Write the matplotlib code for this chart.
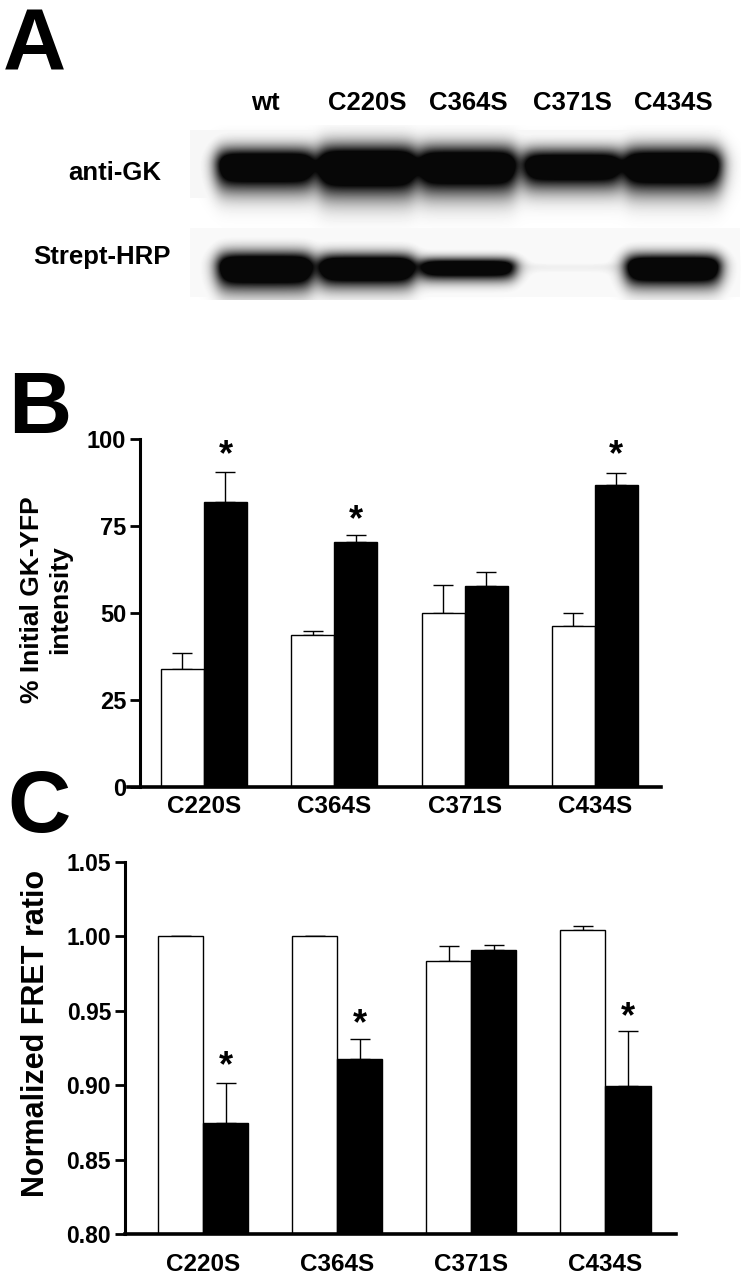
import numpy as np
import matplotlib
matplotlib.use("Agg")
from matplotlib import pyplot as plt

# ---- data ----
lanes = ["wt", "C220S", "C364S", "C371S", "C434S"]
gk_amp = [0.95, 1.0, 0.95, 0.9, 0.95]
gk_thick = [17, 20, 19, 16, 18]
hrp_amp = [1.0, 1.0, 0.9, 0.04, 1.0]
hrp_thick = [15, 13, 9, 4, 13]

mutants = ["C220S", "C364S", "C371S", "C434S"]
b_ctrl = [33.8, 43.8, 50.0, 46.4]
b_ctrl_err = [4.8, 1.0, 8.1, 3.6]
b_trt = [82.0, 70.5, 57.9, 86.7]
b_trt_err = [8.4, 2.0, 4.0, 3.5]
b_star = [97.4, 78.7, None, 97.4]

c_ctrl = [1.000, 1.000, 0.9835, 1.0045]
c_ctrl_err = [0.0, 0.0, 0.0103, 0.0023]
c_trt = [0.8746, 0.9176, 0.9906, 0.8997]
c_trt_err = [0.0267, 0.0134, 0.0038, 0.0370]
c_star = [0.918, 0.946, None, 0.951]

W, H = 742, 1280
plt.rcParams["font.family"] = ["Liberation Sans", "DejaVu Sans"]
plt.rcParams["font.weight"] = "bold"

fig = plt.figure(figsize=(W / 100, H / 100), dpi=100)


def rect(x0, y0, x1, y1):
    return [x0 / W, 1 - y1 / H, (x1 - x0) / W, (y1 - y0) / H]


def ftext(x, y, s, **kw):
    fig.text(x / W, 1 - y / H, s, fontweight="bold", **kw)


# ---- panel letters ----
for letter, x, y in [("A", 3, 70), ("B", 8, 433), ("C", 7, 832)]:
    ftext(x, y, letter, fontsize=63, va="baseline", ha="left")

# ---- panel A: blot ----
lane_x = [265, 367, 468, 572, 673]
for name, x in zip(lanes, lane_x):
    ftext(x, 103, name, fontsize=18.5, ha="center", va="center")
ftext(161, 173, "anti-GK", fontsize=18.5, ha="right", va="center")
ftext(171, 257, "Strept-HRP", fontsize=18.5, ha="right", va="center")

xs = np.arange(190, 741) + 0.5
ys = np.arange(125, 300) + 0.5
X, Y = np.meshgrid(xs, ys)
img = np.ones_like(X)
img[(X > 190) & (X < 721) & (Y > 130) & (Y < 198)] = 0.965
img[(X > 190) & (X < 740) & (Y > 228) & (Y < 297)] = 0.975


def band(cx, cy, hw, hh, amp):
    fx = 1 / (1 + np.exp((np.abs(X - cx) - hw) / 4.5))
    d = Y - cy
    scale = np.where(d > 0, hh * 1.5, hh)
    fy = np.exp(-np.abs(d / scale) ** 2.0)
    return amp * fx * fy


dark = np.zeros_like(X)
for x, a, t in zip(lane_x, gk_amp, gk_thick):
    dark += band(x, 165, 48, t, a)
for x, a, t in zip(lane_x, hrp_amp, hrp_thick):
    dark += band(x, 267, 47, t, a)
img = np.minimum(img, 1 - np.clip(dark * 1.6, 0, 1) * 0.97)

axa = fig.add_axes(rect(190, 125, 741, 300))
axa.imshow(img, cmap="gray", vmin=0, vmax=1, extent=(190, 741, 300, 125),
           aspect="auto", interpolation="bilinear")
axa.axis("off")


# ---- bar panels ----
def bar_panel(ax, ctrl, ctrl_err, trt, trt_err, stars, ylim, yticks,
              ytick_fmt, width, star_off, xpad, xspine_frac, ysize):
    # spine position first: it resets the ticks
    for s in ["top", "right"]:
        ax.spines[s].set_visible(False)
    ax.spines["left"].set_position(("axes", xspine_frac))
    ax.spines["left"].set_linewidth(2.2)
    ax.spines["bottom"].set_linewidth(2.6)

    pos = np.arange(len(mutants))
    ax.bar(pos - width / 2, ctrl, width, color="white",
           edgecolor="black", linewidth=1.0, zorder=2)
    ax.bar(pos + width / 2, trt, width, color="black", edgecolor="black",
           linewidth=1.0, zorder=2)
    ax.errorbar(pos - width / 2, ctrl, yerr=[np.zeros(4), ctrl_err],
                fmt="none", ecolor="black", elinewidth=1.0, capsize=7,
                capthick=1.0, zorder=1)
    ax.errorbar(pos + width / 2, trt, yerr=[np.zeros(4), trt_err],
                fmt="none", ecolor="black", elinewidth=1.0, capsize=7,
                capthick=1.0, zorder=1)
    for p, s in zip(pos, stars):
        if s is not None:
            ax.text(p + width / 2, s - star_off, "*", ha="center",
                    va="center", fontsize=26, fontweight="bold")
    ax.set_ylim(*ylim)
    ax.set_yticks(yticks)
    ax.set_yticklabels([ytick_fmt.format(v) for v in yticks])
    ax.set_xticks(pos)
    ax.set_xticklabels(mutants)
    ax.tick_params(axis="x", length=0, pad=xpad, labelsize=17.5)
    ax.tick_params(axis="y", length=7, width=2.0, pad=3, labelsize=ysize)
    ax.patch.set_alpha(0)


axb = fig.add_axes(rect(128, 439, 661, 787))
axb.set_xlim(-0.583, 3.507)
bar_panel(axb, b_ctrl, b_ctrl_err, b_trt, b_trt_err, b_star, (0, 100),
          [0, 25, 50, 75, 100], "{:d}", 0.33, 2.3, 6, 12 / 533, 17)
ftext(46, 600, "% Initial GK-YFP\nintensity", rotation=90, fontsize=19,
      ha="center", va="center", multialignment="center", linespacing=1.2)

axc = fig.add_axes(rect(125, 862, 676, 1234))
axc.set_xlim(-0.582, 3.526)
bar_panel(axc, c_ctrl, c_ctrl_err, c_trt, c_trt_err, c_star, (0.80, 1.05),
          [0.80, 0.85, 0.90, 0.95, 1.00, 1.05], "{:.2f}", 0.336, 0.0054,
          14, 0.0, 16.5)
ftext(36, 1033, "Normalized FRET ratio", rotation=90, fontsize=22,
      ha="center", va="center")

fig.savefig("out.png", dpi=100)
